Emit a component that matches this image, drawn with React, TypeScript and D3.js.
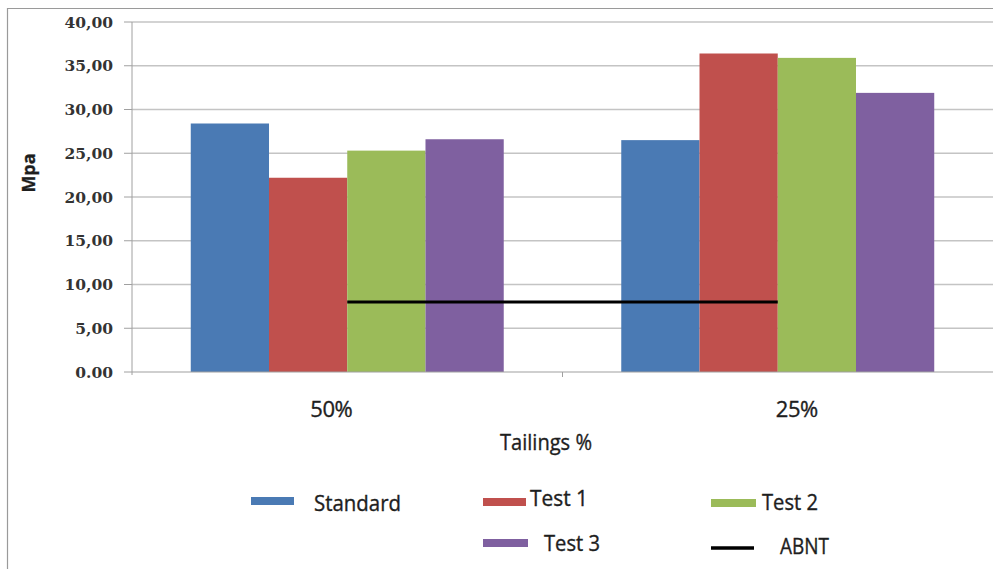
import React from "react";
import * as d3 from "d3";

const categories = ["50%", "25%"];
const seriesNames = ["Standard", "Test 1", "Test 2", "Test 3"];
const standardValues = [28.4, 26.5];
const test1Values = [22.2, 36.4];
const test2Values = [25.3, 35.9];
const test3Values = [26.6, 31.9];
const abntValue = 8.0;
const yTicks = [0, 5, 10, 15, 20, 25, 30, 35, 40];
const yTickLabels = ["0.00", "5,00", "10,00", "15,00", "20,00", "25,00", "30,00", "35,00", "40,00"];
const colors = ["#4a7ab4", "#c0504d", "#9bbb59", "#7f60a0"];

const W = 993;
const H = 569;
const left = 132;
const right = 993;
const top = 22;
const bottom = 372;
const labelOffsets = [-16, 19];

export default function App() {
  const values = [standardValues, test1Values, test2Values, test3Values];
  const x = d3.scaleBand<string>().domain(categories).range([left, right]).paddingInner(0.273).paddingOuter(0.1365);
  const xs = d3.scaleBand<string>().domain(seriesNames).range([0, x.bandwidth()]);
  const y = d3.scaleLinear().domain([0, 40]).range([bottom, top]);
  const c0 = x(categories[0])! + x.bandwidth() / 2;
  const c1 = x(categories[1])! + x.bandwidth() / 2;
  const midTick = (x(categories[0])! + x.bandwidth() + x(categories[1])!) / 2;

  const legend = [
    { name: "Standard", kind: "rect", sx: 251, sy: 497, sw: 43, tx: 314, ty: 503, tl: 87, color: colors[0] },
    { name: "Test 1", kind: "rect", sx: 483, sy: 498, sw: 43, tx: 530, ty: 498, tl: 58, color: colors[1] },
    { name: "Test 2", kind: "rect", sx: 711, sy: 499, sw: 45, tx: 762, ty: 502, tl: 56, color: colors[2] },
    { name: "Test 3", kind: "rect", sx: 483, sy: 539, sw: 45, tx: 544, ty: 543, tl: 56, color: colors[3] },
    { name: "ABNT", kind: "line", sx: 711, sy: 548, sw: 43, tx: 780, ty: 546, tl: 49, color: "#000" },
  ];

  const textStyle = { fontFamily: "Open Sans, sans-serif", fill: "#1e1e1e", stroke: "#1e1e1e", strokeWidth: 0.35 };

  return (
    <svg width={W} height={H} style={{ position: "absolute", left: 0, top: 0, background: "#fff" }}>
      <rect x={0} y={0} width={W} height={H} fill="#fff" />
      <line x1={7} y1={8.5} x2={W} y2={8.5} stroke="#9a9a9a" strokeWidth={1.2} />
      <line x1={7.5} y1={8} x2={7.5} y2={H} stroke="#9a9a9a" strokeWidth={1.2} />
      {yTicks.map((t, i) => (
        <g key={t}>
          {i > 0 && <line x1={left} x2={right} y1={y(t)} y2={y(t)} stroke="#c4c4c4" strokeWidth={1.5} />}
          <line x1={left - 8} x2={left} y1={y(t)} y2={y(t)} stroke="#a0a0a0" strokeWidth={1} />
          <text x={113} y={y(t)} textAnchor="end" dominantBaseline="central"
            fontFamily="DejaVu Serif, serif" fontWeight="bold" fontSize={15.5} fill="#333">
            {yTickLabels[i]}
          </text>
        </g>
      ))}
      <line x1={left} x2={left} y1={top} y2={bottom + 3} stroke="#a0a0a0" strokeWidth={1} />
      {categories.map((cat, ci) => (
        <g key={cat}>
          {values.map((vals, si) => (
            <rect key={si}
              x={x(cat)! + xs(seriesNames[si])!}
              y={y(vals[ci])}
              width={xs.bandwidth()}
              height={bottom - y(vals[ci])}
              fill={colors[si]} />
          ))}
          <text x={x(cat)! + x.bandwidth() / 2 + labelOffsets[ci]} y={408} textAnchor="middle" dominantBaseline="central"
            fontSize={22} letterSpacing={-0.5} {...textStyle}>{cat}</text>
        </g>
      ))}
      <line x1={left} x2={right} y1={bottom} y2={bottom} stroke="#a0a0a0" strokeWidth={1.2} />
      <line x1={midTick} x2={midTick} y1={bottom} y2={bottom + 5} stroke="#a0a0a0" strokeWidth={1} />
      <line x1={c0} x2={c1} y1={y(abntValue)} y2={y(abntValue)} stroke="#000" strokeWidth={3} />
      <text transform={`translate(28,173) rotate(-90)`} textAnchor="middle" dominantBaseline="central"
        fontSize={18} fontWeight="bold" {...textStyle}>Mpa</text>
      <text x={546} y={442} textAnchor="middle" dominantBaseline="central"
        fontSize={21} textLength={92} lengthAdjust="spacingAndGlyphs" {...textStyle}>Tailings %</text>
      {legend.map((l) => (
        <g key={l.name}>
          {l.kind === "rect" ? (
            <rect x={l.sx} y={l.sy} width={l.sw} height={8} fill={l.color} />
          ) : (
            <line x1={l.sx} x2={l.sx + l.sw} y1={l.sy} y2={l.sy} stroke="#000" strokeWidth={3.5} />
          )}
          <text x={l.tx} y={l.ty} dominantBaseline="central" fontSize={21}
            textLength={l.tl} lengthAdjust="spacingAndGlyphs" {...textStyle}>{l.name}</text>
        </g>
      ))}
    </svg>
  );
}
